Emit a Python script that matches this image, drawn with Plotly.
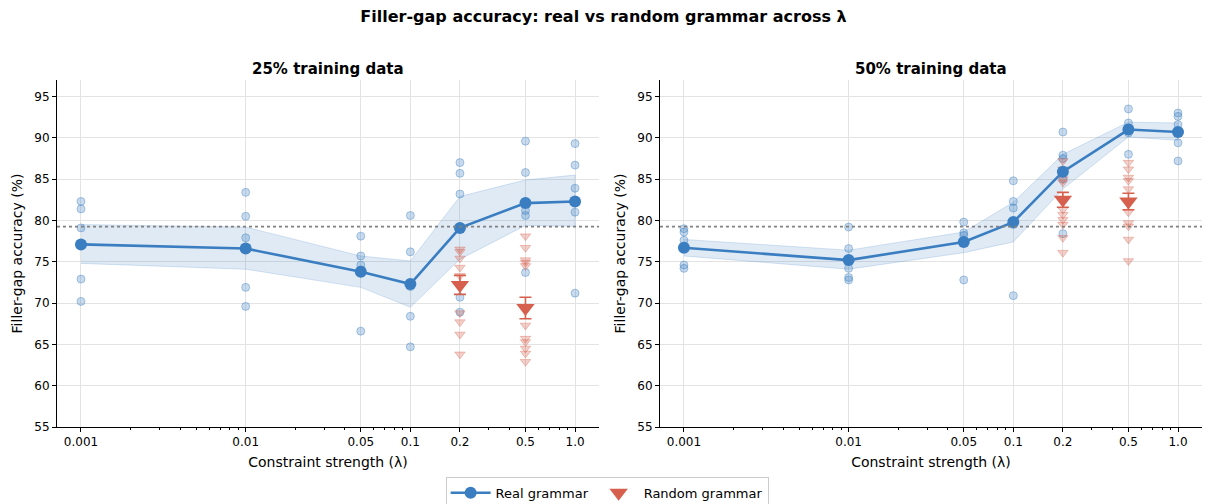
import plotly.graph_objects as go
from plotly.subplots import make_subplots

# ---------------- data ----------------
lambdas = [0.001, 0.01, 0.05, 0.1, 0.2, 0.5, 1.0]
tick_labels = ["0.001", "0.01", "0.05", "0.1", "0.2", "0.5", "1.0"]
panel_titles = ["25% training data", "50% training data"]
baseline = 79.25

# 25% training data: per-seed accuracies (real grammar)
real_pts_25 = [
    [82.3, 81.4, 79.1, 72.9, 70.2],
    [83.4, 80.5, 77.9, 71.9, 69.6],
    [78.1, 75.7, 74.6, 74.0, 66.6],
    [80.6, 76.2, 72.0, 68.4, 64.7],
    [87.0, 85.7, 83.2, 70.7, 68.9],
    [89.6, 85.8, 81.2, 80.6, 73.7],
    [89.3, 86.7, 83.9, 81.0, 71.2],
]
real_mean_25 = [77.1, 76.6, 73.8, 72.3, 79.1, 82.1, 82.3]
real_lo_25 = [74.8, 74.1, 71.9, 69.5, 75.3, 79.4, 79.3]
real_hi_25 = [79.5, 79.2, 75.7, 75.1, 82.9, 84.9, 85.5]

rand_lambdas = [0.2, 0.5]
rand_pts_25 = [
    [76.5, 76.2, 75.4, 74.3, 73.3, 68.8, 67.7, 66.2, 63.8],
    [78.1, 76.7, 75.2, 74.9, 74.5, 67.3, 65.7, 65.3, 64.5, 63.9, 62.9],
]
rand_mean_25 = [72.2, 69.4]
rand_err_25 = [1.15, 1.3]

# 50% training data
real_pts_50 = [
    [79.0, 78.6, 77.6, 74.6, 74.2],
    [79.2, 76.6, 74.2, 73.1, 72.8],
    [79.8, 78.5, 78.2, 77.5, 72.8],
    [84.8, 82.3, 81.5, 79.5, 70.9],
    [90.7, 87.9, 87.5, 85.0, 78.4],
    [93.5, 91.8, 91.1, 90.6, 88.0],
    [93.0, 92.6, 91.6, 89.4, 87.2],
]
real_mean_50 = [76.7, 75.2, 77.4, 79.8, 85.9, 91.0, 90.7]
real_lo_50 = [75.7, 74.1, 76.1, 77.4, 83.8, 90.1, 89.7]
real_hi_50 = [77.7, 76.4, 78.6, 82.2, 88.0, 91.9, 91.8]

rand_pts_50 = [
    [87.2, 86.2, 85.0, 84.6, 81.3, 80.7, 80.1, 79.5, 77.9, 76.1],
    [87.0, 86.2, 85.2, 84.8, 83.8, 81.0, 79.7, 79.3, 77.7, 75.1],
]
rand_mean_50 = [82.5, 82.3]
rand_err_50 = [0.9, 1.0]

# ---------------- styling ----------------
BLUE = "#3a7ec1"
BLUE_RGB = "58,126,193"
RED = "#d6604d"
RED_RGB = "214,96,77"
FONT = "DejaVu Sans"

fig = make_subplots(rows=1, cols=2, horizontal_spacing=0.0532,
                    subplot_titles=[f"<b>{t}</b>" for t in panel_titles])

panels = [
    (real_pts_25, real_mean_25, real_lo_25, real_hi_25, rand_pts_25, rand_mean_25, rand_err_25),
    (real_pts_50, real_mean_50, real_lo_50, real_hi_50, rand_pts_50, rand_mean_50, rand_err_50),
]

for i, (rpts, rmean, rlo, rhi, xpts, xmean, xerr) in enumerate(panels):
    col = i + 1
    # SEM band
    fig.add_trace(go.Scatter(
        x=lambdas + lambdas[::-1], y=rhi + rlo[::-1],
        fill="toself", fillcolor=f"rgba({BLUE_RGB},0.16)",
        line=dict(color=f"rgba({BLUE_RGB},0.2)", width=1),
        mode="lines", hoverinfo="skip", showlegend=False), row=1, col=col)
    # individual seeds (real)
    px, py = [], []
    for lam, vals in zip(lambdas, rpts):
        px += [lam] * len(vals)
        py += vals
    fig.add_trace(go.Scatter(
        x=px, y=py, mode="markers",
        marker=dict(symbol="circle", size=8, color=f"rgba({BLUE_RGB},0.28)",
                    line=dict(color=f"rgba({BLUE_RGB},0.4)", width=1)),
        showlegend=False), row=1, col=col)
    # individual random grammar points
    qx, qy = [], []
    for lam, vals in zip(rand_lambdas, xpts):
        qx += [lam] * len(vals)
        qy += vals
    fig.add_trace(go.Scatter(
        x=qx, y=qy, mode="markers",
        marker=dict(symbol="triangle-down", size=9, color=f"rgba({RED_RGB},0.3)",
                    line=dict(color=f"rgba({RED_RGB},0.35)", width=1)),
        showlegend=False), row=1, col=col)
    # real mean line
    fig.add_trace(go.Scatter(
        x=lambdas, y=rmean, mode="lines+markers", name="Real grammar",
        line=dict(color=BLUE, width=2.6),
        marker=dict(symbol="circle", size=12, color=BLUE),
        showlegend=(i == 0), legendgroup="real"), row=1, col=col)
    # random mean with error bars
    fig.add_trace(go.Scatter(
        x=rand_lambdas, y=xmean, mode="markers", name="Random grammar",
        marker=dict(symbol="triangle-down", size=16, color=RED),
        error_y=dict(type="data", array=xerr, color=RED, thickness=1.6, width=6),
        showlegend=(i == 0), legendgroup="rand"), row=1, col=col)
    # dotted baseline
    fig.add_hline(y=baseline, line=dict(color="#808080", width=1.6, dash="dot"),
                  row=1, col=col)

minor_vals = [m * 10 ** e for e in (-3, -2, -1) for m in range(2, 10)]

fig.update_xaxes(type="log", range=[-3.1457, 0.1457], automargin=False,
                 tickmode="array", tickvals=lambdas, ticktext=tick_labels,
                 ticks="outside", ticklen=4, tickcolor="black",
                 showline=True, linecolor="black", linewidth=1,
                 showgrid=True, gridcolor="#e3e3e3", gridwidth=1,
                 zeroline=False,
                 minor=dict(tickmode="array", tickvals=minor_vals, ticks="outside",
                            ticklen=2, tickcolor="black", showgrid=False),
                 title=dict(text="Constraint strength (λ)", font=dict(size=14, color="black"),
                            standoff=8),
                 tickfont=dict(size=12, color="black"))
fig.update_yaxes(range=[55, 97], automargin=False,
                 tickmode="array", tickvals=list(range(55, 100, 5)),
                 ticks="outside", ticklen=4, tickcolor="black",
                 showline=True, linecolor="black", linewidth=1,
                 showgrid=True, gridcolor="#e3e3e3", gridwidth=1,
                 zeroline=False,
                 title=dict(text="Filler-gap accuracy (%)", font=dict(size=14, color="black"),
                            standoff=8),
                 tickfont=dict(size=12, color="black"))

for ann in fig.layout.annotations:
    ann.font = dict(size=15, color="black", family=FONT)
    ann.y = 1.0
    ann.yshift = 0

fig.update_layout(
    width=1207, height=504,
    margin=dict(l=57, r=5, t=80, b=77, autoexpand=False),
    paper_bgcolor="white", plot_bgcolor="white",
    font=dict(family=FONT, color="black"),
    title=dict(text="<b>Filler-gap accuracy: real vs random grammar across λ</b>",
               x=0.5, xanchor="center", xref="container",
               y=0.968, yanchor="middle", yref="container",
               font=dict(size=16, color="black")),
    legend=dict(orientation="h", xref="container", x=0.503, xanchor="center",
                yref="container", y=0.054, yanchor="top",
                bordercolor="#cccccc", borderwidth=1, bgcolor="white",
                font=dict(size=13, color="black"), itemwidth=40),
)

fig.write_html("out.html", config={"displayModeBar": False},
               post_script="document.body.style.margin='0';document.body.style.overflow='hidden';")
